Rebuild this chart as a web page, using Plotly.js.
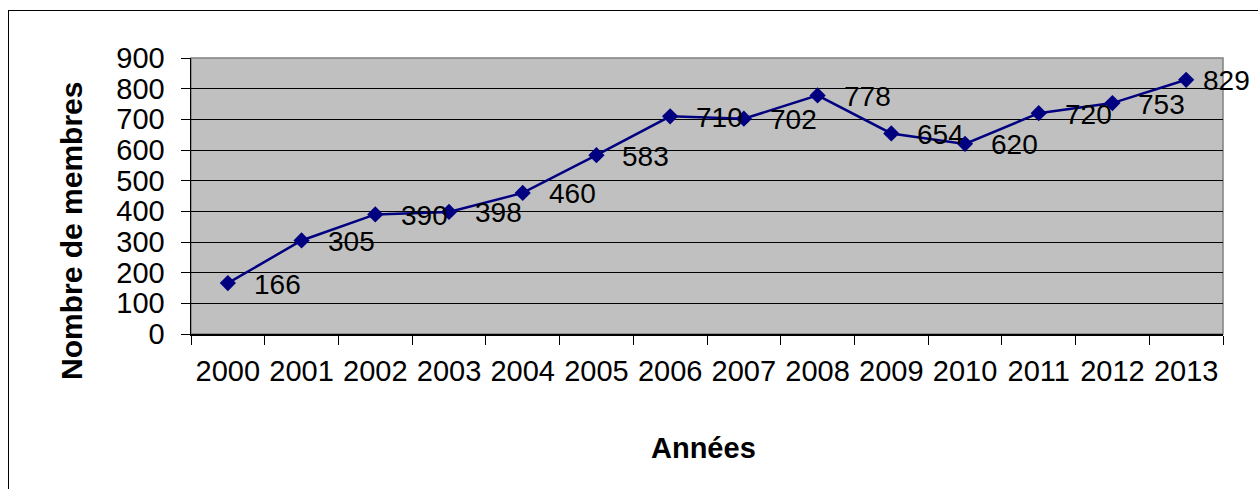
<!DOCTYPE html>
<html>
<head>
<meta charset="utf-8">
<script src="https://cdn.plot.ly/plotly-3.0.1.min.js"></script>
<style>
  html, body { margin: 0; padding: 0; background: #fff; overflow: hidden; }
  #chart { width: 1258px; height: 489px; position: absolute; left: 0; top: 0; }
  #frame { position: absolute; left: 8px; top: 10px; width: 1400px; height: 700px;
           border: 1px solid #000; pointer-events: none; box-sizing: border-box; }
</style>
</head>
<body>
<div id="chart"></div>
<div id="frame"></div>
<script>
const years = ['2000','2001','2002','2003','2004','2005','2006','2007','2008','2009','2010','2011','2012','2013'];
const members = [166, 305, 390, 398, 460, 583, 710, 702, 778, 654, 620, 720, 753, 829];
const yTicks = [0, 100, 200, 300, 400, 500, 600, 700, 800, 900];
const xTitle = 'Années';
const yTitle = 'Nombre de membres';

const FONT = 'Liberation Sans, Arial, sans-serif';

const trace = {
  x: years,
  y: members,
  type: 'scatter',
  mode: 'lines+markers',
  line: { color: '#000080', width: 2.5 },
  marker: { symbol: 'diamond', size: 12.5, color: '#000080' },
  hoverinfo: 'x+y'
};

// category axis: annotation x given as category index
const labelAnnotations = years.map((yr, i) => ({
  x: i, y: members[i], xref: 'x', yref: 'y',
  text: String(members[i]),
  showarrow: false,
  xanchor: 'left', yanchor: 'middle',
  xshift: i === years.length - 1 ? 15 : 24,
  yshift: -1,
  font: { family: FONT, size: 28, color: '#000' }
}));

const layout = {
  width: 1258, height: 489,
  margin: { l: 191, r: 35, t: 58, b: 155, pad: 0 },
  paper_bgcolor: '#ffffff',
  plot_bgcolor: '#C0C0C0',
  showlegend: false,
  xaxis: {
    type: 'category',
    range: [-0.5, 13.5],
    tickson: 'boundaries',
    ticks: 'outside', ticklen: 9, tickwidth: 1, tickcolor: '#000',
    showgrid: false, zeroline: false,
    showline: true, linecolor: '#000', linewidth: 1.5,
    tickfont: { family: FONT, size: 29, color: '#000' },
    ticklabelstandoff: 11,
    fixedrange: true
  },
  yaxis: {
    range: [0, 900],
    tickvals: yTicks,
    ticktext: yTicks.map(String),
    ticks: 'outside', ticklen: 9, tickwidth: 1, tickcolor: '#000',
    showgrid: true, gridcolor: '#000', gridwidth: 1,
    zeroline: false,
    showline: true, linecolor: '#000', linewidth: 1.5,
    tickfont: { family: FONT, size: 29, color: '#000' },
    ticklabelstandoff: 10,
    fixedrange: true
  },
  shapes: [
    { type: 'rect', xref: 'paper', yref: 'paper', x0: 0, x1: 1, y0: 0, y1: 1,
      line: { color: '#808080', width: 1.5 }, fillcolor: 'rgba(0,0,0,0)', layer: 'below' }
  ],
  annotations: labelAnnotations.concat([
    { xref: 'paper', yref: 'paper', x: (703 - 191) / 1032, y: (334 - 448) / 276,
      xanchor: 'center', yanchor: 'middle', showarrow: false,
      text: '<b>' + xTitle + '</b>',
      font: { family: FONT, size: 29, color: '#000' } },
    { xref: 'paper', yref: 'paper', x: (71 - 191) / 1032, y: (334 - 231) / 276,
      xanchor: 'center', yanchor: 'middle', showarrow: false, textangle: -90,
      text: '<b>' + yTitle + '</b>',
      font: { family: FONT, size: 30, color: '#000' } }
  ])
};

Plotly.newPlot('chart', [trace], layout, { displayModeBar: false, staticPlot: true });
</script>
</body>
</html>
